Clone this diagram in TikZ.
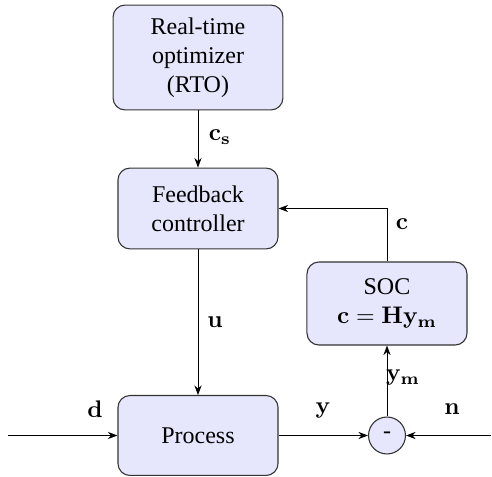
\documentclass[tikz,border=0pt]{standalone}
\usepackage[no-math]{fontspec}
\setmainfont{Liberation Serif}
\usetikzlibrary{arrows.meta}
\definecolor{boxfill}{RGB}{230,230,252}
\tikzset{
  blockbox/.style={draw=black!80, fill=boxfill, rounded corners=5pt, align=center, line width=0.45pt, inner sep=2pt},
  sumnode/.style={draw=black!80, fill=boxfill, circle, minimum size=15.4pt, inner sep=0pt, line width=0.45pt},
  conn/.style={-{Stealth[length=4pt,width=3pt]}, line width=0.4pt},
  lab/.style={inner sep=0pt}
}
\begin{document}
\begin{tikzpicture}[x=0.41667pt, y=-0.41667pt]
\useasboundingbox (0,0) rectangle (492,477);
\node[blockbox, minimum width=70.8pt, minimum height=43.7pt] (rto) at (198,57.5) {Real-time\\optimizer\\(RTO)};
\node[blockbox, minimum width=66.7pt, minimum height=33.7pt] (fb) at (198,208.5) {Feedback\\controller};
\node[blockbox, minimum width=66.7pt, minimum height=34.6pt] (soc) at (387,303.5) {SOC\\$\mathbf{c=Hy_m}$};
\node[blockbox, minimum width=66.7pt, minimum height=33.3pt] (proc) at (198,435.5) {Process};
\node[sumnode] (sum) at (387,435.5) {-};
\coordinate (dstart) at (8,435.5);
\coordinate (nstart) at (491,435.5);

\draw[conn] (rto) -- (fb);
\draw[conn] (soc.north) |- (fb.east);
\draw[conn] (fb) -- (proc);
\draw[conn] (dstart) -- (proc.west);
\draw[conn] (proc.east) -- (sum.west);
\draw[conn] (nstart) -- (sum.east);
\draw[conn] (sum.north) -- (soc.south);

\node[lab] (lcs) at (220,137) {$\mathbf{c_s}$};
\node[lab] (lc) at (402,224) {$\mathbf{c}$};
\node[lab] (lu) at (215,322) {$\mathbf{u}$};
\node[lab] (lym) at (403,378) {$\mathbf{y_m}$};
\node[lab] (ld) at (95,409) {$\mathbf{d}$};
\node[lab] (ly) at (323,411) {$\mathbf{y}$};
\node[lab] (ln) at (452,409) {$\mathbf{n}$};
\end{tikzpicture}
\end{document}
